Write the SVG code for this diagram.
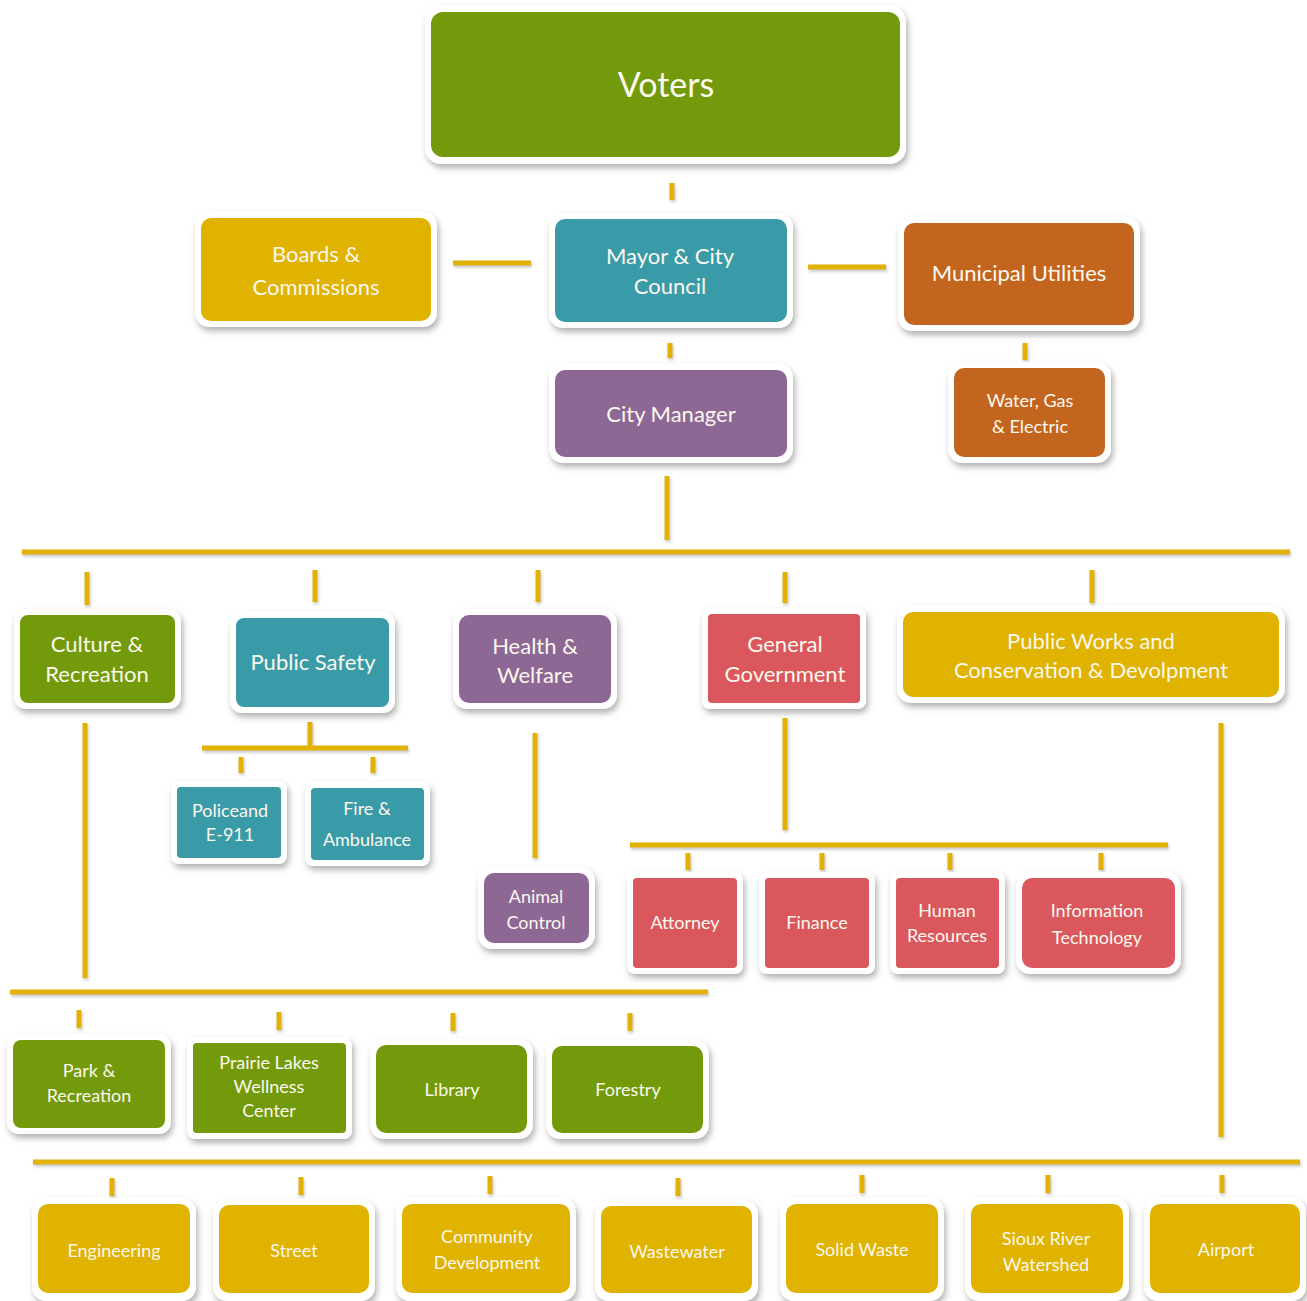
<svg xmlns="http://www.w3.org/2000/svg" width="1307" height="1301" viewBox="0 0 1307 1301">
<defs>
<filter id="sh" x="-10%" y="-10%" width="130%" height="140%">
<feDropShadow dx="2" dy="4" stdDeviation="3" flood-color="#6f6f6f" flood-opacity="0.55"/>
</filter>
<filter id="lsh" filterUnits="userSpaceOnUse" x="0" y="0" width="1307" height="1301">
<feDropShadow dx="1" dy="2" stdDeviation="1.5" flood-color="#888" flood-opacity="0.5"/>
</filter>
</defs>
<style>
.frame{fill:#ffffff;filter:url(#sh)}
.green{fill:#739A0A}
.gold{fill:#E0B300}
.teal{fill:#3A9BA8}
.orange{fill:#C3651F}
.purple{fill:#8E6894}
.red{fill:#DA585D}
text{font-family:Lato,"Open Sans","Liberation Sans",sans-serif;fill:#FBF8EE;text-anchor:middle}
.t34{font-size:34px}
.t22{font-size:22px}
.t18{font-size:18px}
.conn{filter:url(#lsh)}
.conn line{stroke:#E1B200;stroke-width:5}
</style>
<rect width="1307" height="1301" fill="#ffffff"/>

<g id="connectors" class="conn">
<line x1="672" y1="183" x2="672" y2="200"/>
<line x1="453" y1="263" x2="531" y2="263"/>
<line x1="808" y1="267" x2="886" y2="267"/>
<line x1="670" y1="343" x2="670" y2="358"/>
<line x1="1025" y1="343" x2="1025" y2="360"/>
<line x1="667" y1="476" x2="667" y2="540"/>
<line x1="22" y1="552" x2="1290" y2="552"/>
<line x1="87" y1="572" x2="87" y2="605"/>
<line x1="315" y1="570" x2="315" y2="602"/>
<line x1="538" y1="570" x2="538" y2="602"/>
<line x1="785" y1="572" x2="785" y2="603"/>
<line x1="1092" y1="570" x2="1092" y2="603"/>
<line x1="310" y1="722" x2="310" y2="746"/>
<line x1="202" y1="748" x2="408" y2="748"/>
<line x1="241" y1="757" x2="241" y2="773"/>
<line x1="373" y1="757" x2="373" y2="773"/>
<line x1="535" y1="733" x2="535" y2="858"/>
<line x1="785" y1="718" x2="785" y2="830"/>
<line x1="630" y1="845" x2="1168" y2="845"/>
<line x1="688" y1="853" x2="688" y2="870"/>
<line x1="822" y1="853" x2="822" y2="870"/>
<line x1="950" y1="853" x2="950" y2="870"/>
<line x1="1101" y1="853" x2="1101" y2="870"/>
<line x1="85" y1="723" x2="85" y2="978"/>
<line x1="10" y1="992" x2="708" y2="992"/>
<line x1="79" y1="1010" x2="79" y2="1028"/>
<line x1="279" y1="1012" x2="279" y2="1030"/>
<line x1="453" y1="1013" x2="453" y2="1031"/>
<line x1="630" y1="1013" x2="630" y2="1031"/>
<line x1="1221" y1="723" x2="1221" y2="1137"/>
<line x1="33" y1="1162" x2="1300" y2="1162"/>
<line x1="112" y1="1178" x2="112" y2="1196"/>
<line x1="301" y1="1177" x2="301" y2="1195"/>
<line x1="490" y1="1176" x2="490" y2="1194"/>
<line x1="678" y1="1178" x2="678" y2="1196"/>
<line x1="862" y1="1175" x2="862" y2="1193"/>
<line x1="1048" y1="1175" x2="1048" y2="1193"/>
<line x1="1222" y1="1175" x2="1222" y2="1193"/>
</g>

<g id="voters"><rect class="frame" x="425" y="6" width="481" height="158" rx="16"/><rect class="green" x="431" y="12" width="469" height="145" rx="12"/><text class="t34" x="666" y="97">Voters</text></g>

<g id="boards"><rect class="frame" x="195" y="212" width="242" height="115" rx="14"/><rect class="gold" x="201" y="218" width="230" height="103" rx="10"/><text class="t22" x="316" y="262">Boards &amp;</text><text class="t22" x="316" y="295">Commissions</text></g>

<g id="mayor"><rect class="frame" x="549" y="213" width="244" height="115" rx="14"/><rect class="teal" x="555" y="219" width="232" height="103" rx="10"/><text class="t22" x="670" y="264">Mayor &amp; City</text><text class="t22" x="670" y="294">Council</text></g>

<g id="utilities"><rect class="frame" x="898" y="217" width="242" height="114" rx="14"/><rect class="orange" x="904" y="223" width="230" height="102" rx="10"/><text class="t22" x="1019" y="281">Municipal Utilities</text></g>

<g id="citymanager"><rect class="frame" x="549" y="364" width="244" height="99" rx="14"/><rect class="purple" x="555" y="370" width="232" height="87" rx="10"/><text class="t22" x="671" y="422">City Manager</text></g>

<g id="water"><rect class="frame" x="948" y="362" width="163" height="101" rx="14"/><rect class="orange" x="954" y="368" width="151" height="89" rx="10"/><text class="t18" x="1030" y="407">Water, Gas</text><text class="t18" x="1030" y="433">&amp; Electric</text></g>

<g id="culture"><rect class="frame" x="14" y="609" width="167" height="100" rx="12"/><rect class="green" x="20" y="615" width="155" height="88" rx="8"/><text class="t22" x="97" y="652">Culture &amp;</text><text class="t22" x="97" y="682">Recreation</text></g>

<g id="publicsafety"><rect class="frame" x="230" y="612" width="165" height="101" rx="12"/><rect class="teal" x="236" y="618" width="153" height="89" rx="8"/><text class="t22" x="313" y="670">Public Safety</text></g>

<g id="health"><rect class="frame" x="453" y="609" width="164" height="100" rx="14"/><rect class="purple" x="459" y="615" width="152" height="88" rx="10"/><text class="t22" x="535" y="654">Health &amp;</text><text class="t22" x="535" y="683">Welfare</text></g>

<g id="general"><rect class="frame" x="702" y="608" width="164" height="101" rx="8"/><rect class="red" x="708" y="614" width="152" height="89" rx="4"/><text class="t22" x="785" y="652">General</text><text class="t22" x="785" y="682">Government</text></g>

<g id="publicworks"><rect class="frame" x="897" y="606" width="388" height="97" rx="14"/><rect class="gold" x="903" y="612" width="376" height="85" rx="10"/><text class="t22" x="1091" y="649">Public Works and</text><text class="t22" x="1091" y="678">Conservation &amp; Devolpment</text></g>

<g id="police"><rect class="frame" x="171" y="781" width="116" height="83" rx="8"/><rect class="teal" x="177" y="787" width="104" height="71" rx="4"/><text class="t18" x="230" y="817">Policeand</text><text class="t18" x="230" y="841">E-911</text></g>

<g id="fire"><rect class="frame" x="305" y="782" width="125" height="84" rx="8"/><rect class="teal" x="311" y="788" width="113" height="72" rx="4"/><text class="t18" x="367" y="815">Fire &amp;</text><text class="t18" x="367" y="846">Ambulance</text></g>

<g id="animal"><rect class="frame" x="478" y="867" width="117" height="82" rx="14"/><rect class="purple" x="484" y="873" width="105" height="70" rx="10"/><text class="t18" x="536" y="903">Animal</text><text class="t18" x="536" y="929">Control</text></g>

<g id="attorney"><rect class="frame" x="627" y="872" width="116" height="102" rx="8"/><rect class="red" x="633" y="878" width="104" height="90" rx="4"/><text class="t18" x="685" y="929">Attorney</text></g>

<g id="finance"><rect class="frame" x="759" y="872" width="116" height="102" rx="8"/><rect class="red" x="765" y="878" width="104" height="90" rx="4"/><text class="t18" x="817" y="929">Finance</text></g>

<g id="hr"><rect class="frame" x="890" y="872" width="115" height="102" rx="8"/><rect class="red" x="896" y="878" width="103" height="90" rx="4"/><text class="t18" x="947" y="917">Human</text><text class="t18" x="947" y="942">Resources</text></g>

<g id="it"><rect class="frame" x="1016" y="872" width="165" height="102" rx="14"/><rect class="red" x="1022" y="878" width="153" height="90" rx="10"/><text class="t18" x="1097" y="917">Information</text><text class="t18" x="1097" y="944">Technology</text></g>

<g id="park"><rect class="frame" x="7" y="1034" width="164" height="100" rx="12"/><rect class="green" x="13" y="1040" width="152" height="88" rx="8"/><text class="t18" x="89" y="1077">Park &amp;</text><text class="t18" x="89" y="1102">Recreation</text></g>

<g id="prairie"><rect class="frame" x="187" y="1037" width="165" height="102" rx="8"/><rect class="green" x="193" y="1043" width="153" height="90" rx="4"/><text class="t18" x="269" y="1069">Prairie Lakes</text><text class="t18" x="269" y="1093">Wellness</text><text class="t18" x="269" y="1117">Center</text></g>

<g id="library"><rect class="frame" x="370" y="1039" width="163" height="100" rx="14"/><rect class="green" x="376" y="1045" width="151" height="88" rx="10"/><text class="t18" x="452" y="1096">Library</text></g>

<g id="forestry"><rect class="frame" x="546" y="1040" width="163" height="99" rx="14"/><rect class="green" x="552" y="1046" width="151" height="87" rx="10"/><text class="t18" x="628" y="1096">Forestry</text></g>

<g id="engineering"><rect class="frame" x="32" y="1198" width="164" height="103" rx="14"/><rect class="gold" x="38" y="1204" width="152" height="89" rx="10"/><text class="t18" x="114" y="1257">Engineering</text></g>

<g id="street"><rect class="frame" x="213" y="1199" width="162" height="102" rx="14"/><rect class="gold" x="219" y="1205" width="150" height="88" rx="10"/><text class="t18" x="294" y="1257">Street</text></g>

<g id="community"><rect class="frame" x="396" y="1198" width="180" height="103" rx="14"/><rect class="gold" x="402" y="1204" width="168" height="89" rx="10"/><text class="t18" x="487" y="1243">Community</text><text class="t18" x="487" y="1269">Development</text></g>

<g id="wastewater"><rect class="frame" x="595" y="1200" width="163" height="101" rx="14"/><rect class="gold" x="601" y="1206" width="151" height="87" rx="10"/><text class="t18" x="677" y="1258">Wastewater</text></g>

<g id="solidwaste"><rect class="frame" x="780" y="1198" width="164" height="103" rx="14"/><rect class="gold" x="786" y="1204" width="152" height="89" rx="10"/><text class="t18" x="862" y="1256">Solid Waste</text></g>

<g id="sioux"><rect class="frame" x="965" y="1198" width="164" height="103" rx="14"/><rect class="gold" x="971" y="1204" width="152" height="89" rx="10"/><text class="t18" x="1046" y="1245">Sioux River</text><text class="t18" x="1046" y="1271">Watershed</text></g>

<g id="airport"><rect class="frame" x="1144" y="1198" width="162" height="103" rx="14"/><rect class="gold" x="1150" y="1204" width="150" height="89" rx="10"/><text class="t18" x="1226" y="1256">Airport</text></g>
</svg>
